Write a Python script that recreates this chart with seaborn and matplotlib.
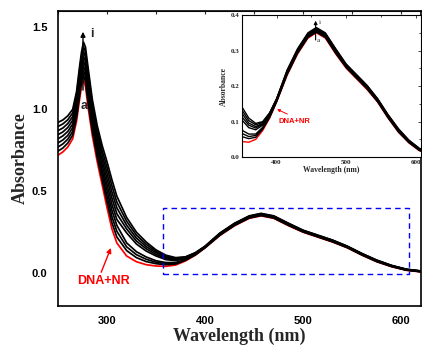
import numpy as np
import pandas as pd
import matplotlib
matplotlib.use("Agg")
import matplotlib.pyplot as plt
from matplotlib.patches import Rectangle
from matplotlib.ticker import MultipleLocator
import seaborn as sns

# wavelength grid (nm)
wl = [250, 255, 260, 265, 269, 272, 274, 276, 278, 281, 285, 290, 295, 300, 305, 310,
      320, 330, 340, 350, 360, 370, 380, 390, 400, 415, 430, 445, 457, 470, 485, 500,
      515, 530, 545, 560, 575, 590, 605, 620]

# curve a = DNA+NR (red), b..i with increasing amount of added compound
abs_a = [0.72, 0.74, 0.77, 0.82, 0.93, 1.06, 1.14, 1.18, 1.14, 1.00, 0.84, 0.68, 0.54, 0.40, 0.27, 0.185,
         0.105, 0.07, 0.052, 0.044, 0.042, 0.05, 0.075, 0.11, 0.155, 0.23, 0.29, 0.335, 0.35, 0.335, 0.29, 0.25,
         0.22, 0.19, 0.155, 0.11, 0.07, 0.04, 0.018, 0.008]
abs_b = [0.745, 0.764, 0.794, 0.843, 0.953, 1.085, 1.166, 1.209, 1.17, 1.03, 0.868, 0.708, 0.57, 0.435, 0.308, 0.221,
         0.138, 0.095, 0.071, 0.058, 0.052, 0.056, 0.079, 0.112, 0.156, 0.232, 0.292, 0.337, 0.352, 0.337, 0.292, 0.252,
         0.222, 0.192, 0.156, 0.111, 0.071, 0.041, 0.019, 0.009]
abs_c = [0.77, 0.789, 0.818, 0.865, 0.975, 1.11, 1.193, 1.238, 1.20, 1.06, 0.895, 0.735, 0.60, 0.47, 0.345, 0.256,
         0.161, 0.113, 0.085, 0.067, 0.058, 0.061, 0.081, 0.114, 0.158, 0.234, 0.294, 0.339, 0.354, 0.339, 0.294, 0.253,
         0.223, 0.193, 0.158, 0.113, 0.073, 0.042, 0.020, 0.010]
abs_d = [0.795, 0.813, 0.841, 0.888, 0.998, 1.135, 1.219, 1.266, 1.23, 1.09, 0.923, 0.763, 0.63, 0.505, 0.383, 0.292,
         0.185, 0.131, 0.099, 0.076, 0.065, 0.065, 0.084, 0.115, 0.159, 0.236, 0.296, 0.341, 0.356, 0.341, 0.296, 0.255,
         0.225, 0.195, 0.159, 0.114, 0.074, 0.043, 0.021, 0.010]
abs_e = [0.82, 0.838, 0.865, 0.91, 1.02, 1.16, 1.245, 1.295, 1.26, 1.12, 0.95, 0.79, 0.66, 0.54, 0.42, 0.328,
         0.246, 0.178, 0.135, 0.105, 0.083, 0.077, 0.09, 0.119, 0.16, 0.238, 0.298, 0.343, 0.358, 0.343, 0.298, 0.256,
         0.226, 0.196, 0.16, 0.115, 0.075, 0.044, 0.022, 0.011]
abs_f = [0.845, 0.862, 0.889, 0.933, 1.043, 1.185, 1.271, 1.324, 1.29, 1.15, 0.978, 0.818, 0.69, 0.575, 0.458, 0.363,
         0.27, 0.196, 0.149, 0.114, 0.09, 0.082, 0.093, 0.12, 0.161, 0.239, 0.299, 0.344, 0.359, 0.344, 0.299, 0.258,
         0.228, 0.198, 0.161, 0.116, 0.076, 0.045, 0.022, 0.012]
abs_g = [0.87, 0.886, 0.913, 0.955, 1.065, 1.21, 1.298, 1.353, 1.32, 1.18, 1.005, 0.845, 0.72, 0.61, 0.495, 0.399,
         0.293, 0.214, 0.162, 0.124, 0.096, 0.086, 0.095, 0.122, 0.163, 0.241, 0.301, 0.346, 0.361, 0.346, 0.301, 0.259,
         0.229, 0.199, 0.163, 0.118, 0.078, 0.046, 0.023, 0.013]
abs_h = [0.895, 0.911, 0.936, 0.978, 1.088, 1.235, 1.324, 1.381, 1.35, 1.21, 1.033, 0.873, 0.75, 0.645, 0.533, 0.434,
         0.317, 0.232, 0.176, 0.133, 0.103, 0.091, 0.098, 0.124, 0.164, 0.243, 0.303, 0.348, 0.363, 0.348, 0.303, 0.261,
         0.231, 0.201, 0.164, 0.119, 0.079, 0.047, 0.024, 0.013]
abs_i = [0.92, 0.935, 0.96, 1.00, 1.11, 1.26, 1.35, 1.41, 1.38, 1.24, 1.06, 0.90, 0.78, 0.68, 0.57, 0.47,
         0.34, 0.25, 0.19, 0.142, 0.11, 0.095, 0.10, 0.125, 0.165, 0.245, 0.305, 0.35, 0.365, 0.35, 0.305, 0.262,
         0.232, 0.202, 0.165, 0.12, 0.08, 0.048, 0.025, 0.014]

curve_names = list("abcdefghi")
curves = [abs_a, abs_b, abs_c, abs_d, abs_e, abs_f, abs_g, abs_h, abs_i]

df = pd.concat([pd.DataFrame({"wl": wl, "A": v, "curve": n}) for n, v in zip(curve_names, curves)],
               ignore_index=True)
palette = {n: ("#ff0000" if n == "a" else "black") for n in curve_names}

sns.set_style("white")
sans = ["Liberation Sans", "DejaVu Sans"]
serif = ["Liberation Serif", "DejaVu Serif"]
plt.rcParams["font.family"] = sans

fig = plt.figure(figsize=(4.22, 3.5), dpi=100)
ax = fig.add_axes([0.1374, 0.1257, 0.860, 0.843])


def draw_curves(a, lw):
    # red first so that the black lines sit on top of it
    sns.lineplot(data=df[df.curve == "a"], x="wl", y="A", color="#ff0000", lw=lw,
                 estimator=None, sort=False, ax=a, legend=False)
    sns.lineplot(data=df[df.curve != "a"], x="wl", y="A", hue="curve", palette=palette, lw=lw,
                 estimator=None, sort=False, ax=a, legend=False)


draw_curves(ax, 1.25)
ax.set_xlim(250, 620)
ax.set_ylim(-0.2, 1.6)
ax.xaxis.set_major_locator(MultipleLocator(100))
ax.xaxis.set_minor_locator(MultipleLocator(50))
ax.yaxis.set_major_locator(MultipleLocator(0.5))
ax.yaxis.set_minor_locator(MultipleLocator(0.25))
ax.tick_params(which="both", direction="out", width=1, colors="black")
ax.tick_params(which="major", length=4, labelsize=8)
ax.tick_params(which="minor", length=2.5)
for lab in ax.get_xticklabels() + ax.get_yticklabels():
    lab.set_fontweight("bold")
for s in ax.spines.values():
    s.set_linewidth(1.2)
    s.set_color("black")
top = ax.secondary_xaxis("top")
top.xaxis.set_major_locator(MultipleLocator(50))
top.tick_params(direction="in", length=2.5, labeltop=False)
ax.set_xlabel("Wavelength (nm)", family=serif, fontweight="bold", fontsize=13, labelpad=1)
ax.set_ylabel("Absorbance", family=serif, fontweight="bold", fontsize=13, labelpad=2)

# dashed box marking the enlarged region
ax.add_patch(Rectangle((357, -0.005), 608 - 357, 0.405, fill=False, ec="#0000ff",
                       ls=(0, (4, 3)), lw=1.0, zorder=5))

# annotations
ax.annotate("", xy=(275.5, 1.49), xytext=(275.5, 1.10),
            arrowprops=dict(arrowstyle="-|>", color="black", lw=1, mutation_scale=7))
ax.text(284.5, 1.46, "i", fontsize=9, fontweight="bold", ha="center", va="center")
ax.text(276.5, 1.02, "a", fontsize=9, fontweight="bold", ha="center", va="center")
ax.annotate("", xy=(305, 0.17), xytext=(293, -0.01),
            arrowprops=dict(arrowstyle="-|>", color="#ff0000", lw=1, mutation_scale=7))
ax.text(296, -0.045, "DNA+NR", color="#ff0000", fontsize=9, fontweight="bold", ha="center", va="center")

# inset
ins = fig.add_axes([0.573, 0.551, 0.424, 0.406])
draw_curves(ins, 1.0)
ins.set_xlim(350, 607)
ins.set_ylim(0, 0.4)
ins.xaxis.set_major_locator(MultipleLocator(100))
ins.xaxis.set_minor_locator(MultipleLocator(50))
ins.yaxis.set_major_locator(MultipleLocator(0.1))
ins.yaxis.set_minor_locator(MultipleLocator(0.05))
ins.tick_params(which="both", direction="in", right=True, top=True, width=0.6, labelsize=5, pad=2)
ins.tick_params(which="major", length=2.5)
ins.tick_params(which="minor", length=1.5)
for lab in ins.get_xticklabels() + ins.get_yticklabels():
    lab.set_family(serif)
    lab.set_fontweight("bold")
for s in ins.spines.values():
    s.set_linewidth(0.8)
    s.set_color("black")
ins.set_xlabel("Wavelength (nm)", family=serif, fontweight="bold", fontsize=5.5, labelpad=1)
ins.set_ylabel("Absorbance", family=serif, fontweight="bold", fontsize=5.5, labelpad=2)
ins.annotate("", xy=(456, 0.392), xytext=(456, 0.322),
             arrowprops=dict(arrowstyle="-|>", color="black", lw=0.8, mutation_scale=5))
ins.text(462, 0.378, "i", family=serif, fontsize=5, ha="center", va="center")
ins.text(460, 0.327, "a", family=serif, fontsize=5, ha="center", va="center")
ins.annotate("", xy=(397, 0.138), xytext=(419, 0.118),
             arrowprops=dict(arrowstyle="-|>", color="#ff0000", lw=0.7, mutation_scale=4))
ins.text(426, 0.099, "DNA+NR", color="#ff0000", fontsize=5.5, fontweight="bold", ha="center", va="center")

fig.savefig("out.png", dpi=100)
